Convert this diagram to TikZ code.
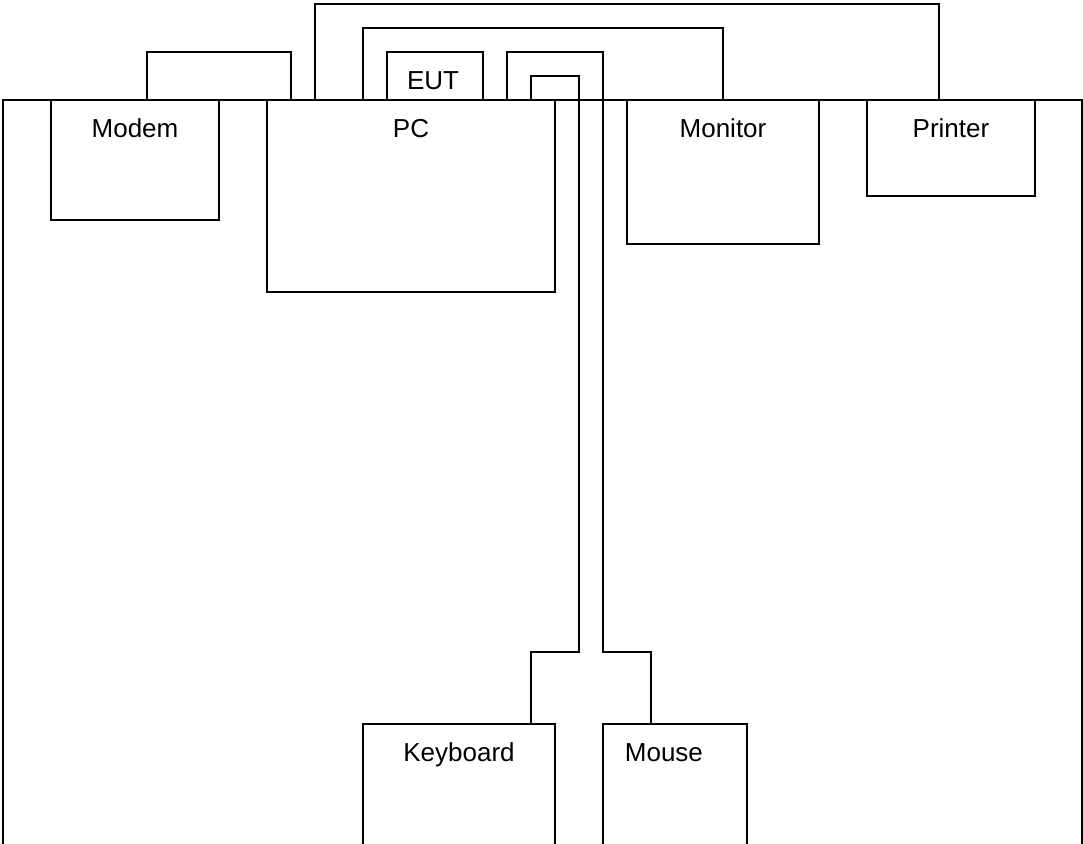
\documentclass[tikz,border=0pt]{standalone}
\usepackage{fontspec}
\setmainfont{Liberation Sans}
\begin{document}
\begin{tikzpicture}[x=1pt,y=1pt,
  line width=1.8pt,
  box/.style={draw,rectangle,anchor=north west,inner sep=0pt,outer sep=0pt},
  lbl/.style={anchor=base,inner sep=0pt,font=\fontsize{26}{31}\selectfont},
  wire/.style={draw,line join=miter}]
\useasboundingbox (0,0) rectangle (1083,-843);
\clip (0,0) rectangle (1083,-843);
% room outline (open at the bottom of the picture)
\node[box,minimum width=1079pt,minimum height=800pt] (room) at (3,-100) {};
% equipment
\node[box,minimum width=168pt,minimum height=120pt] (modem) at (51,-100) {};
\node[box,minimum width=288pt,minimum height=192pt] (pc) at (267,-100) {};
\node[box,minimum width=96pt,minimum height=48pt] (eut) at (387,-52) {};
\node[box,minimum width=192pt,minimum height=144pt] (monitor) at (627,-100) {};
\node[box,minimum width=168pt,minimum height=96pt] (printer) at (867,-100) {};
\node[box,minimum width=192pt,minimum height=200pt] (keyboard) at (363,-724) {};
\node[box,minimum width=144pt,minimum height=200pt] (mouse) at (603,-724) {};
% labels
\node[lbl] (modemlbl) at ([yshift=-37pt]modem.north) {Modem};
\node[lbl] (pclbl) at ([yshift=-37pt]pc.north) {PC};
\node[lbl] (eutlbl) at ([yshift=-37pt,xshift=-2pt]eut.north) {EUT};
\node[lbl] (monitorlbl) at ([yshift=-37pt]monitor.north) {Monitor};
\node[lbl] (printerlbl) at ([yshift=-37pt]printer.north) {Printer};
\node[lbl] (keyboardlbl) at ([yshift=-37pt]keyboard.north) {Keyboard};
\node[lbl,anchor=base west] (mouselbl) at ([xshift=21pt,yshift=-37pt]mouse.north west) {Mouse};
% cables
\draw[wire] ([xshift=96pt]modem.north west) -- ++(0,48) -| ([xshift=24pt]pc.north west);
\draw[wire] ([xshift=48pt]pc.north west) -- ++(0,96) -| ([xshift=72pt]printer.north west);
\draw[wire] ([xshift=96pt]pc.north west) -- ++(0,72) -| (monitor.north);
\draw[wire] ([xshift=240pt]pc.north west) -- ++(0,48) -- ++(96,0) -- ++(0,-600) -| ([xshift=48pt]mouse.north west);
\draw[wire] ([xshift=264pt]pc.north west) -- ++(0,24) -- ++(48,0) -- ++(0,-576) -| ([xshift=168pt]keyboard.north west);
\end{tikzpicture}
\end{document}
